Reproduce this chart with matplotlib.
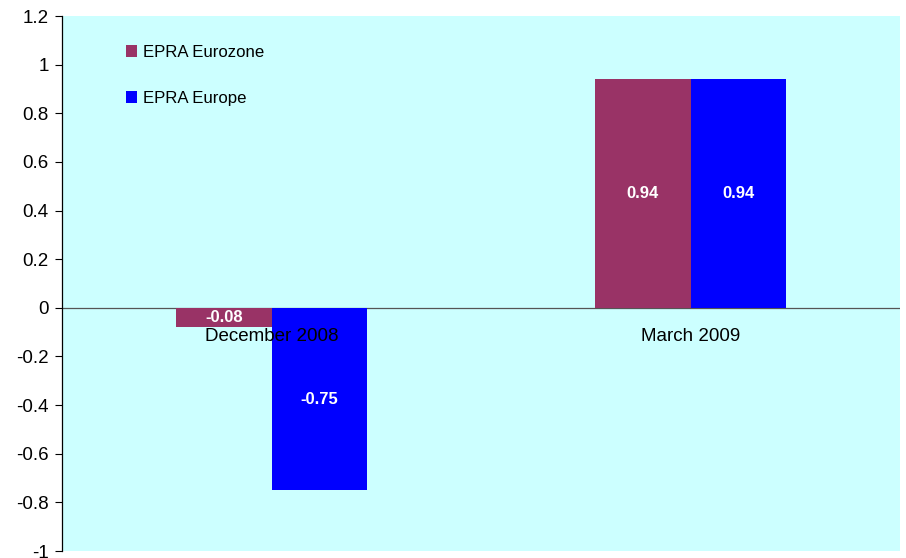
import numpy as np
import matplotlib.pyplot as plt

plt.rcParams['font.family'] = ['Liberation Sans', 'DejaVu Sans']

categories = ["December 2008", "March 2009"]
eurozone = [-0.08, 0.94]
europe = [-0.75, 0.94]
series_names = ["EPRA Eurozone", "EPRA Europe"]
colors = ["#993366", "#0000FF"]

fig = plt.figure(figsize=(9.06, 5.58), dpi=100)
ax = fig.add_axes([62 / 906, 7 / 558, 838 / 906, 535 / 558])
ax.set_facecolor("#CCFFFF")

x = np.arange(len(categories))
w = 0.228
for vals, off, name, col in [(eurozone, -w / 2, series_names[0], colors[0]),
                             (europe, w / 2, series_names[1], colors[1])]:
    bars = ax.bar(x + off, vals, w, color=col, label=name, zorder=2)
    for b, v in zip(bars, vals):
        ax.text(b.get_x() + b.get_width() / 2, v / 2, f"{v:.2f}",
                ha="center", va="center", color="white",
                fontweight="bold", fontsize=12, zorder=3)

ax.axhline(0, color="#555555", lw=0.9, zorder=1)
ax.set_xlim(-0.5, 1.5)
ax.set_ylim(-1, 1.2)
ax.set_yticks(np.arange(-1, 1.21, 0.2))
ax.set_yticklabels(["-1", "-0.8", "-0.6", "-0.4", "-0.2", "0", "0.2",
                    "0.4", "0.6", "0.8", "1", "1.2"])
ax.tick_params(axis="y", labelsize=13.5, length=5, width=0.8,
               direction="out", pad=4.5)
ax.set_xticks([])
for s in ["top", "right", "bottom"]:
    ax.spines[s].set_visible(False)
ax.spines["left"].set_linewidth(0.9)

for xi, c in zip(x, categories):
    ax.text(xi, -0.118, c, ha="center", va="center", fontsize=13.5, zorder=4)

ax.legend(loc="upper left", bbox_to_anchor=(0.058, 0.975), frameon=False,
          fontsize=12.1, handlelength=0.7, handleheight=0.7,
          handletextpad=0.3, labelspacing=1.85)

fig.savefig("out.png", dpi=100)
